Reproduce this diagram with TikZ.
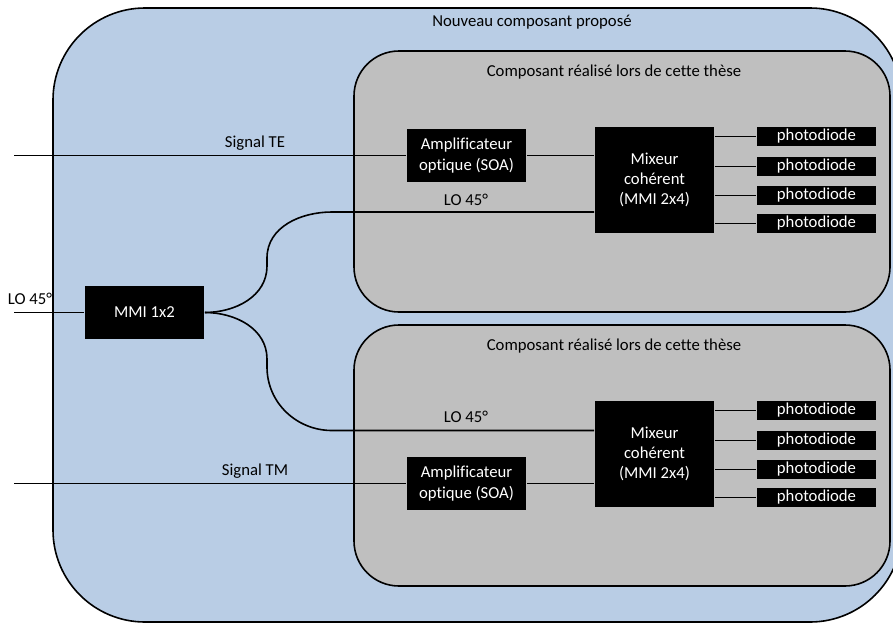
\documentclass[tikz,border=0pt]{standalone}
\usepackage{fontspec}
\setmainfont{Carlito}[Ligatures=CommonOff]
\usepackage{tikz}
\usepackage{xcolor}
\definecolor{fondbleu}{HTML}{B9CDE5}
\definecolor{fondgris}{HTML}{BFBFBF}

\begin{document}
\begin{tikzpicture}[x=1pt,y=-1pt,line width=1.6pt,
  font=\fontsize{16.7}{20.3}\selectfont,
  bloc/.style={fill=black,text=white,align=center,inner sep=0pt,minimum width=119pt},
  pdbox/.style={bloc,minimum height=19pt},
  cadre/.style={draw=black,fill=fondgris,rounded corners=45pt,minimum width=536pt,minimum height=261pt}]
\useasboundingbox (0,0) rectangle (893,624);
\clip (0,0) rectangle (893,624);
% enveloppes
\node[draw=black,fill=fondbleu,rounded corners=92pt,minimum width=849pt,minimum height=614pt] (outer) at (477.5,315) {};
\node (titre) at (532,22) {Nouveau composant propos\'e};
\node[cadre] (boxTE) at (622,181.5) {};
\node[cadre] (boxTM) at (622,455.5) {};
\node (titreTE) at (614,72) {Composant r\'ealis\'e lors de cette th\`ese};
\node (titreTM) at (614,346) {Composant r\'ealis\'e lors de cette th\`ese};
% blocs
\node[bloc,minimum height=53pt] (mmi) at (144.5,312.5) {MMI 1x2};
\node[bloc,minimum height=53pt] (soaTE) at (466.5,155.5) {Amplificateur\\optique (SOA)};
\node[bloc,minimum height=106pt] (mixTE) at (654.5,180) {Mixeur\\coh\'erent\\(MMI 2x4)};
\node[bloc,minimum height=53pt] (soaTM) at (466.5,483.5) {Amplificateur\\optique (SOA)};
\node[bloc,minimum height=106pt] (mixTM) at (654.5,454) {Mixeur\\coh\'erent\\(MMI 2x4)};
\node[pdbox] (pdTE1) at (816.5,136.5) {photodiode};
\node[pdbox] (pdTE2) at (816.5,166.5) {photodiode};
\node[pdbox] (pdTE3) at (816.5,195.5) {photodiode};
\node[pdbox] (pdTE4) at (816.5,223.5) {photodiode};
\node[pdbox] (pdTM1) at (816.5,410.5) {photodiode};
\node[pdbox] (pdTM2) at (816.5,440.5) {photodiode};
\node[pdbox] (pdTM3) at (816.5,469.5) {photodiode};
\node[pdbox] (pdTM4) at (816.5,497.5) {photodiode};
% entrees
\coordinate (inTE) at (14,155.5);
\coordinate (inLO) at (14,312.5);
\coordinate (inTM) at (14,483.5);
\coordinate (loTE) at (332,212);
\coordinate (loTM) at (332,430.5);
\node (lblTE) at (255,143) {Signal TE};
\node (lblTM) at (255,471.5) {Signal TM};
\node (lblLO) at (30,299) {LO 45°};
\node (lblLOTE) at (466,200) {LO 45°};
\node (lblLOTM) at (466,417) {LO 45°};
% guides
\draw (inTE) -- (soaTE.west);
\draw (soaTE.east) -- (soaTE.east -| mixTE.west);
\draw (inTM) -- (soaTM.west);
\draw (soaTM.east) -- (soaTM.east -| mixTM.west);
\draw (inLO) -- (mmi.west);
\draw (mmi.east) to[out=0,in=-90] (267,266) -- (267,258) to[out=90,in=180] (loTE) -- (loTE -| mixTE.west);
\draw (mmi.east) to[out=0,in=90] (267,359) -- (267,367) to[out=-90,in=180] (loTM) -- (loTM -| mixTM.west);
\draw (mixTE.east |- pdTE1.west) -- (pdTE1.west);
\draw (mixTE.east |- pdTE2.west) -- (pdTE2.west);
\draw (mixTE.east |- pdTE3.west) -- (pdTE3.west);
\draw (mixTE.east |- pdTE4.west) -- (pdTE4.west);
\draw (mixTM.east |- pdTM1.west) -- (pdTM1.west);
\draw (mixTM.east |- pdTM2.west) -- (pdTM2.west);
\draw (mixTM.east |- pdTM3.west) -- (pdTM3.west);
\draw (mixTM.east |- pdTM4.west) -- (pdTM4.west);
\end{tikzpicture}
\end{document}
